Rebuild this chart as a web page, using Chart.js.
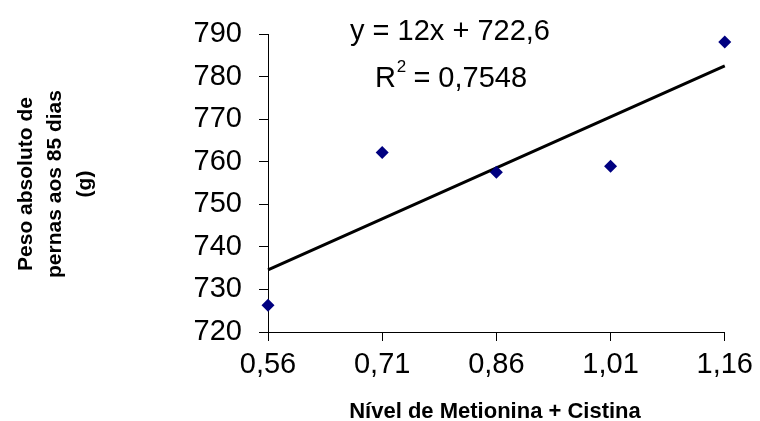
<!DOCTYPE html>
<html>
<head>
<meta charset="utf-8">
<script src="https://cdn.jsdelivr.net/npm/chart.js@4.4.1/dist/chart.umd.min.js"></script>
<style>
  html, body { margin: 0; padding: 0; background: #fff; }
  #wrap { width: 760px; height: 421px; }
</style>
</head>
<body>
<div id="wrap"><canvas id="chart" width="760" height="421"></canvas></div>
<script>
// values
const xLabels = ['0,56', '0,71', '0,86', '1,01', '1,16'];
const pesoValues = [726.3, 762.2, 757.6, 759.0, 788.2];
const yMin = 720, yMax = 790, yStep = 10;

// linear trend as printed on the chart (x = 1..5)
const trendSlope = 12;
const trendIntercept = 722.6;
const eqText = 'y = 12x + 722,6';
const r2Text = ' = 0,7548';

const xTitle = 'Nível de Metionina + Cistina';
const yTitleLines = ['Peso absoluto de', 'pernas aos 85 dias', '(g)'];

const FONT = '"Liberation Sans", Arial, sans-serif';

const trendValues = pesoValues.map((v, i) => trendSlope * (i + 1) + trendIntercept);

// titles + equation drawn by hand
const annotations = {
  id: 'annotations',
  afterDraw(chart) {
    const ctx = chart.ctx;
    const area = chart.chartArea;
    ctx.save();
    ctx.fillStyle = '#000';

    // x title
    ctx.font = 'bold 22px ' + FONT;
    ctx.textAlign = 'center';
    ctx.textBaseline = 'alphabetic';
    ctx.fillText(xTitle, 495, 418);

    // y title, rotated
    const baselines = [31.5, 61, 91];
    yTitleLines.forEach((line, i) => {
      ctx.save();
      ctx.translate(baselines[i], 184);
      ctx.rotate(-Math.PI / 2);
      ctx.font = 'bold 21px ' + FONT;
      ctx.textAlign = 'center';
      ctx.fillText(line, 0, 0);
      ctx.restore();
    });

    // equation
    ctx.font = '29px ' + FONT;
    ctx.textAlign = 'center';
    ctx.fillText(eqText, 450, 40);

    // R^2 line
    ctx.textAlign = 'left';
    const wR = ctx.measureText('R').width;
    ctx.font = '17px ' + FONT;
    const w2 = ctx.measureText('2').width;
    ctx.font = '29px ' + FONT;
    const wRest = ctx.measureText(r2Text).width;
    let x0 = 451 - (wR + w2 + wRest) / 2;
    ctx.fillText('R', x0, 87);
    ctx.font = '17px ' + FONT;
    ctx.fillText('2', x0 + wR + 1, 72);
    ctx.font = '29px ' + FONT;
    ctx.fillText(r2Text, x0 + wR + w2, 87);

    ctx.restore();
  }
};

new Chart(document.getElementById('chart'), {
  type: 'line',
  data: {
    labels: xLabels,
    datasets: [
      {
        label: 'Peso',
        data: pesoValues,
        showLine: false,
        pointStyle: 'rectRot',
        pointRadius: 6.5,
        pointHoverRadius: 6.5,
        pointBackgroundColor: '#000080',
        pointBorderColor: '#000080',
        pointBorderWidth: 0,
        clip: false,
        order: 1
      },
      {
        label: 'Linear',
        data: trendValues,
        borderColor: '#000',
        borderWidth: 3,
        pointRadius: 0,
        tension: 0,
        fill: false,
        clip: false,
        order: 2
      }
    ]
  },
  options: {
    responsive: false,
    animation: false,
    events: [],
    layout: { padding: { top: 29, right: 35, left: 0, bottom: 0 } },
    plugins: {
      legend: { display: false },
      tooltip: { enabled: false },
      title: { display: false }
    },
    scales: {
      x: {
        type: 'category',
        offset: false,
        grid: { drawOnChartArea: false, drawTicks: true, tickLength: 9, color: '#000' },
        border: { display: true, color: '#000', width: 1 },
        ticks: {
          color: '#000',
          font: { family: FONT, size: 29 },
          padding: 7,
          maxRotation: 0,
          autoSkip: false
        },
        afterFit(scale) { scale.height = 89; }
      },
      y: {
        min: yMin,
        max: yMax,
        grid: { drawOnChartArea: false, drawTicks: true, tickLength: 9, color: '#000' },
        border: { display: true, color: '#000', width: 1 },
        ticks: {
          stepSize: yStep,
          color: '#000',
          font: { family: FONT, size: 29 },
          padding: 17
        },
        afterFit(scale) { scale.width = 268; }
      }
    }
  },
  plugins: [annotations]
});
</script>
</body>
</html>
